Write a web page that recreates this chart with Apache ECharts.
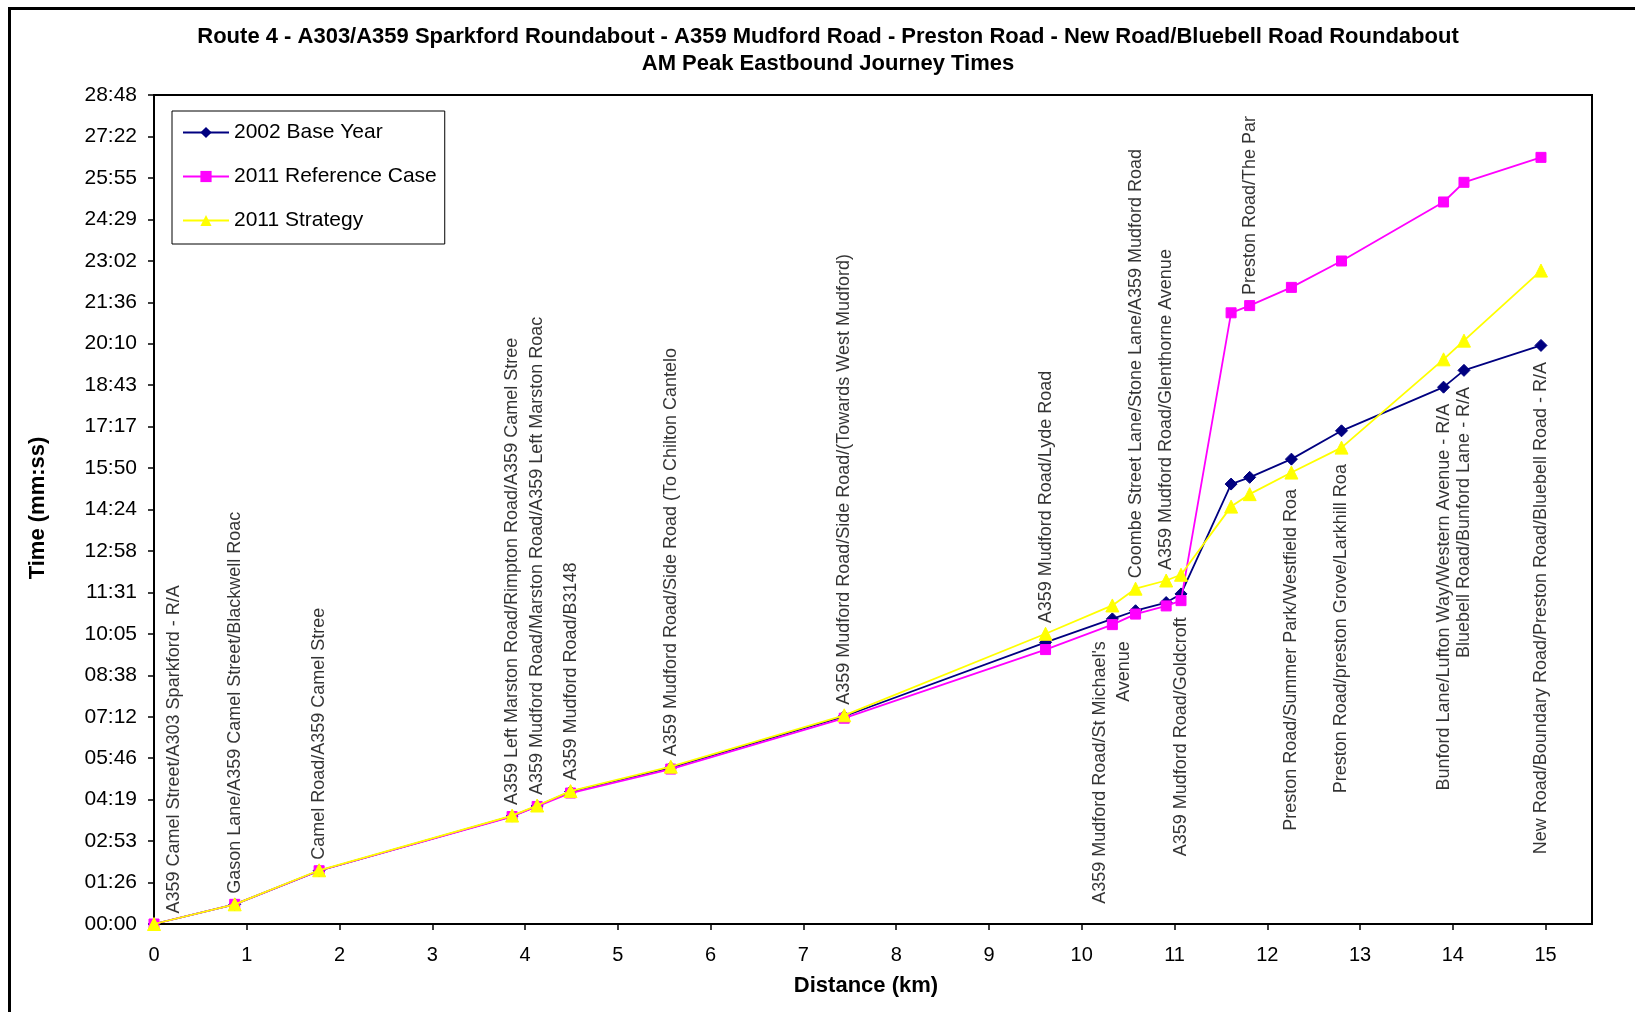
<!DOCTYPE html>
<html>
<head>
<meta charset="utf-8">
<script src="https://cdn.jsdelivr.net/npm/echarts@6/dist/echarts.min.js"></script>
<style>
html,body{margin:0;padding:0;background:#fff;}
#c{width:1635px;height:1012px;}
</style>
</head>
<body>
<div id="c"></div>
<script>
// ---- data ----
const distanceKm = [0, 0.87, 1.78, 3.86, 4.13, 4.49, 5.57, 7.44, 9.61, 10.33, 10.58, 10.91, 11.07, 11.61, 11.81, 12.26, 12.80, 13.90, 14.12, 14.95];
// journey times in seconds
const base2002  = [0, 41, 111, 225, 246, 276, 326, 433, 587, 636, 653, 670, 688, 917, 931, 969, 1028, 1119, 1154, 1206];
const ref2011   = [0, 41, 111, 224, 245, 273, 323, 429, 572, 624, 646, 663, 674, 1274, 1289, 1327, 1382, 1505, 1546, 1598];
const strat2011 = [0, 41, 112, 226, 247, 277, 328, 435, 605, 664, 699, 716, 728, 870, 896, 941, 993, 1177, 1216, 1362];
const junctionNames = [
  'A359 Camel Street/A303 Sparkford - R/A',
  'Gason Lane/A359 Camel Street/Blackwell Roac',
  'Camel Road/A359 Camel Stree',
  'A359 Left Marston Road/Rimpton Road/A359 Camel Stree',
  'A359 Mudford Road/Marston Road/A359 Left Marston Roac',
  'A359 Mudford Road/B3148',
  'A359 Mudford Road/Side Road (To Chilton Cantelo',
  'A359 Mudford Road/Side Road/(Towards West Mudford)',
  'A359 Mudford Road/Lyde Road',
  "A359 Mudford Road/St Michael's\nAvenue",
  'Coombe Street Lane/Stone Lane/A359 Mudford Road',
  'A359 Mudford Road/Glenthorne Avenue',
  'A359 Mudford Road/Goldcroft',
  '',
  'Preston Road/The Par',
  'Preston Road/Summer Park/Westfield Roa',
  'Preston Road/preston Grove/Larkhill Roa',
  'Bunford Lane/Lufton Way/Western Avenue - R/A',
  'Bluebell Road/Bunford Lane - R/A',
  'New Road/Boundary Road/Preston Road/Bluebell Road - R/A'
];
const seriesNames = ['2002 Base Year', '2011 Reference Case', '2011 Strategy'];
const yTickLabels = ['00:00','01:26','02:53','04:19','05:46','07:12','08:38','10:05','11:31','12:58','14:24','15:50','17:17','18:43','20:10','21:36','23:02','24:29','25:55','27:22','28:48'];
const xTickLabels = ['0','1','2','3','4','5','6','7','8','9','10','11','12','13','14','15'];
const titleLines = ['Route 4 - A303/A359 Sparkford Roundabout - A359 Mudford Road - Preston Road - New Road/Bluebell Road Roundabout', 'AM Peak Eastbound Journey Times'];
const xAxisTitle = 'Distance (km)';
const yAxisTitle = 'Time (mm:ss)';

// ---- chart ----
const FONT = "'Liberation Sans', Arial, Helvetica, sans-serif";
const Y_STEP = 86.4;
const chart = echarts.init(document.getElementById('c'), null, {renderer: 'canvas'});

const labelsBelow = new Set([9, 12, 15, 16, 17, 18, 19]);
const labelData = distanceKm.map(function (d, i) {
  const vals = [base2002[i], ref2011[i], strat2011[i]];
  const below = labelsBelow.has(i);
  const lab = {
    formatter: junctionNames[i],
    position: below ? 'bottom' : 'top',
    align: below ? 'right' : 'left',
    distance: below ? 16 : 10
  };
  if (i === 0) lab.offset = [0, 20];
  return { value: [d, below ? Math.min.apply(null, vals) : Math.max.apply(null, vals)], label: lab };
});

function pairs(arr) { return distanceKm.map(function (d, i) { return [d, arr[i]]; }); }

const option = {
  animation: false,
  backgroundColor: '#ffffff',
  textStyle: { fontFamily: FONT },
  grid: { left: 154, top: 95, right: 43, bottom: 88, show: true, borderColor: '#000', borderWidth: 2, backgroundColor: '#fff' },
  legend: {
    data: seriesNames,
    orient: 'vertical',
    left: 172, top: 111,
    padding: [10, 8, 12, 10],
    itemGap: 21,
    itemWidth: 46,
    itemHeight: 14,
    itemTextGap: 5,
    borderColor: '#000', borderWidth: 1,
    backgroundColor: '#fff',
    textStyle: { fontSize: 21, lineHeight: 23, color: '#000', fontFamily: FONT }
  },
  xAxis: {
    type: 'value', min: 0, max: 15.5, interval: 1,
    axisLine: { show: true, lineStyle: { color: '#000', width: 2 } },
    axisTick: { show: true, length: 6, lineStyle: { color: '#000', width: 1.5 }, customValues: xTickLabels.map(Number) },
    axisLabel: { fontSize: 20, color: '#000', margin: 21, fontFamily: FONT, customValues: xTickLabels.map(Number),
      formatter: function (v) { const k = Math.round(v); return Math.abs(v - k) < 1e-6 && xTickLabels[k] !== undefined ? xTickLabels[k] : ''; } },
    splitLine: { show: false }
  },
  yAxis: {
    type: 'value', min: 0, max: Y_STEP * 20, interval: Y_STEP,
    axisLine: { show: true, lineStyle: { color: '#000', width: 2 } },
    axisTick: { show: true, length: 6, lineStyle: { color: '#000', width: 1.5 } },
    axisLabel: { fontSize: 21, color: '#000', margin: 17, fontFamily: FONT,
      formatter: function (v) { const k = Math.round(v / Y_STEP); return yTickLabels[k] !== undefined ? yTickLabels[k] : ''; } },
    splitLine: { show: false }
  },
  series: [
    { name: seriesNames[0], type: 'line', data: pairs(base2002), symbol: 'diamond', symbolSize: 12, showAllSymbol: true,
      lineStyle: { color: '#000080', width: 1.8 }, itemStyle: { color: '#000080', borderColor: '#000080' }, z: 2 },
    { name: seriesNames[1], type: 'line', data: pairs(ref2011), symbol: 'rect', symbolSize: 10, showAllSymbol: true,
      lineStyle: { color: '#FF00FF', width: 1.8 }, itemStyle: { color: '#FF00FF', borderColor: '#FF00FF' }, z: 3 },
    { name: seriesNames[2], type: 'line', data: pairs(strat2011), symbol: 'triangle', symbolSize: 13, showAllSymbol: true,
      lineStyle: { color: '#FFFF00', width: 1.8 }, itemStyle: { color: '#FFFF00', borderColor: '#FFFF00' }, z: 4 },
    { name: 'junctions', type: 'scatter', data: labelData, symbolSize: 1, silent: true, z: 5,
      itemStyle: { color: 'rgba(0,0,0,0)' },
      label: { show: true, rotate: 90, verticalAlign: 'middle', fontSize: 18, color: '#000', fontFamily: FONT, lineHeight: 24 } }
  ],
  graphic: [
    { type: 'rect', shape: { x: 9.5, y: 8.5, width: 1700, height: 1100 }, style: { fill: 'none', stroke: '#000', lineWidth: 3 }, silent: true, z: -1 },
    { type: 'text', x: 828, y: 36.5, style: { text: titleLines[0], font: 'bold 22px ' + FONT, fill: '#000', align: 'center', verticalAlign: 'middle' } },
    { type: 'text', x: 828, y: 63.5, style: { text: titleLines[1], font: 'bold 22px ' + FONT, fill: '#000', align: 'center', verticalAlign: 'middle' } },
    { type: 'text', x: 866, y: 986, style: { text: xAxisTitle, font: 'bold 22px ' + FONT, fill: '#000', align: 'center', verticalAlign: 'middle' } },
    { type: 'text', x: 37.5, y: 508, rotation: Math.PI / 2, style: { text: yAxisTitle, font: 'bold 22px ' + FONT, fill: '#000', align: 'center', verticalAlign: 'middle' } }
  ]
};
chart.setOption(option);
</script>
</body>
</html>
